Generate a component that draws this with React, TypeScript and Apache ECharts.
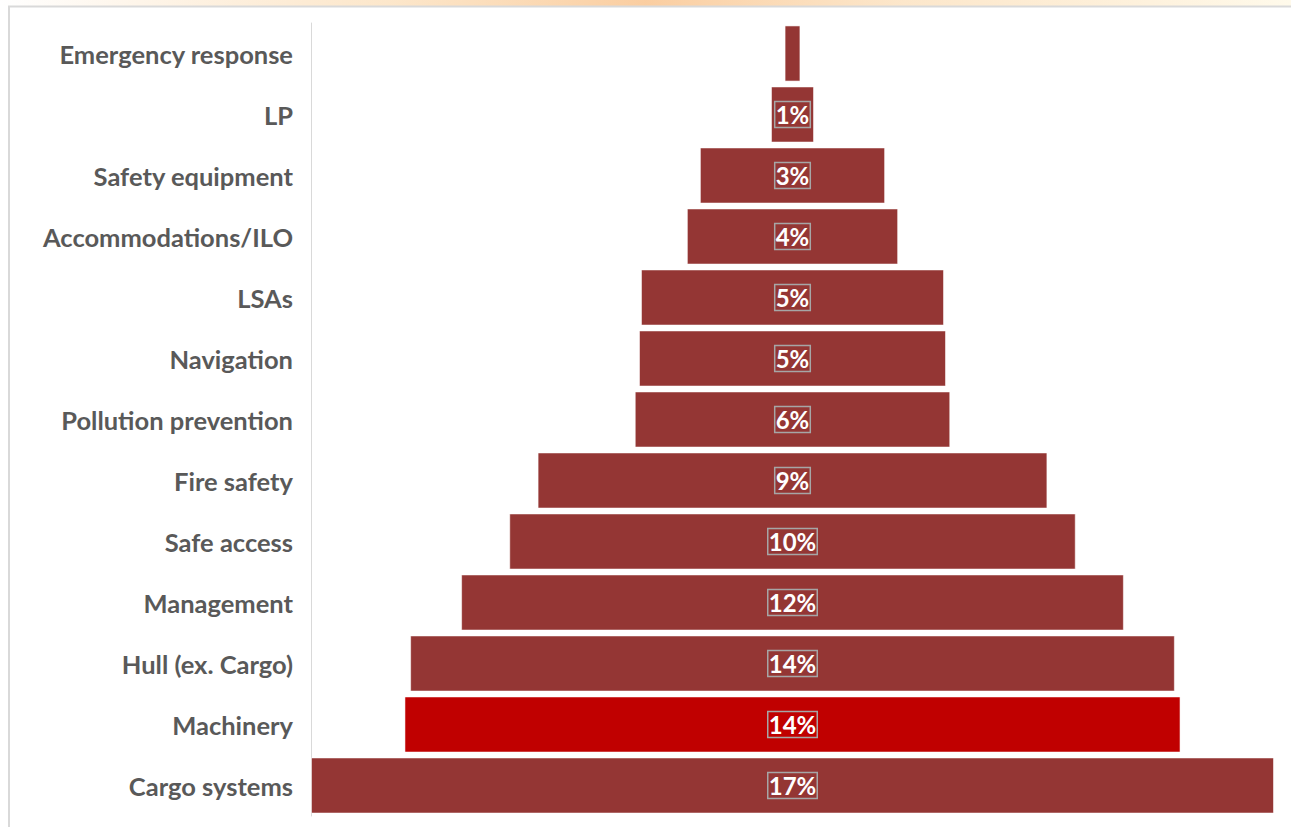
import React, { useEffect, useRef } from "react";
import * as echarts from "echarts";

const categories = [
  "Emergency response",
  "LP",
  "Safety equipment",
  "Accommodations/ILO",
  "LSAs",
  "Navigation",
  "Pollution prevention",
  "Fire safety",
  "Safe access",
  "Management",
  "Hull (ex. Cargo)",
  "Machinery",
  "Cargo systems",
];
const shares = [0.28, 0.76, 3.27, 3.73, 5.35, 5.42, 5.57, 9.0, 10.0, 11.7, 13.5, 13.7, 17.0];
const highlighted = "Machinery";
const axisMax = 17;

export default function App() {
  const ref = useRef<HTMLDivElement>(null);
  useEffect(() => {
    if (!ref.current) return;
    const chart = echarts.init(ref.current, undefined, { renderer: "svg" });
    const spacer = shares.map((v) => (axisMax - v) / 2);
    const visible = shares.map((v, i) => ({
      value: v,
      itemStyle: { color: categories[i] === highlighted ? "#c00000" : "#943634" },
      label: { show: Math.round(v) >= 1 },
    }));
    chart.setOption({
      animation: false,
      backgroundColor: "#ffffff",
      grid: { left: 311, right: 17, top: 23, bottom: 11, containLabel: false },
      xAxis: {
        type: "value",
        min: 0,
        max: axisMax,
        show: false,
      },
      yAxis: {
        type: "category",
        data: categories,
        inverse: true,
        axisLine: { show: true, lineStyle: { color: "#d9d9d9", width: 1 } },
        axisTick: { show: false },
        axisLabel: {
          margin: 18,
          color: "#595959",
          fontFamily: "Lato",
          fontWeight: "bold",
          fontSize: 25.5,
        },
      },
      graphic: [
        {
          type: "rect",
          shape: { x: 0, y: 0, width: 1291, height: 6 },
          style: {
            fill: new echarts.graphic.LinearGradient(0, 0, 1, 0, [
              { offset: 0, color: "rgba(255,255,255,1)" },
              { offset: 0.3, color: "rgba(252,225,190,0.8)" },
              { offset: 0.5, color: "rgba(250,200,150,0.9)" },
              { offset: 0.7, color: "rgba(252,225,190,0.8)" },
              { offset: 1, color: "rgba(255,250,235,1)" },
            ]),
          },
          silent: true,
        },
        {
          type: "line",
          shape: { x1: 8, y1: 6.5, x2: 1291, y2: 6.5 },
          style: { stroke: "#d9d9d9", lineWidth: 2 },
          silent: true,
        },
        {
          type: "line",
          shape: { x1: 9, y1: 6, x2: 9, y2: 827 },
          style: { stroke: "#d9d9d9", lineWidth: 2 },
          silent: true,
        },
      ],
      series: [
        {
          type: "bar",
          stack: "p",
          data: spacer,
          itemStyle: { color: "transparent" },
          barCategoryGap: "8%",
          silent: true,
        },
        {
          type: "bar",
          stack: "p",
          data: visible,
          barCategoryGap: "8%",
          itemStyle: { borderColor: "rgba(255,255,255,0.55)", borderWidth: 1 },
          label: {
            show: true,
            position: "inside",
            formatter: (p: any) => Math.round(p.value) + "%",
            color: "#ffffff",
            fontFamily: "Lato",
            fontWeight: "bold",
            fontSize: 24,
            borderColor: "#a6a6a6",
            borderWidth: 1.5,
            padding: [2, 1, 0, 1],
          },
        },
      ],
    });
    return () => chart.dispose();
  }, []);
  return (
    <div
      ref={ref}
      style={{ position: "absolute", left: 0, top: 0, width: 1291, height: 827 }}
    />
  );
}
